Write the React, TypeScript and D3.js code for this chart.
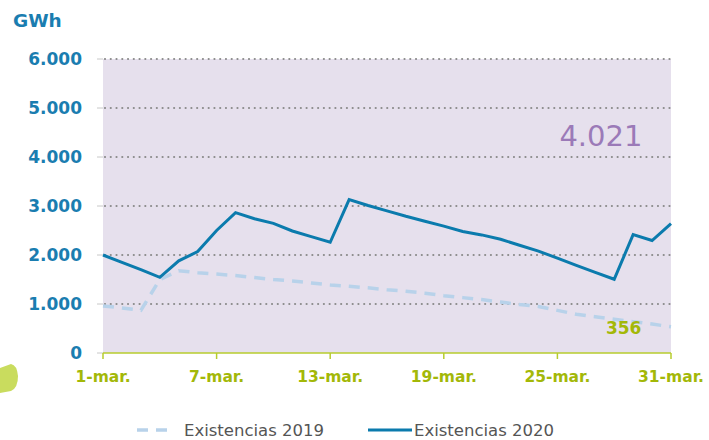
import React, { useEffect, useRef } from 'react';
import * as d3 from 'd3';

// días de marzo
const days = d3.range(1, 32);

// GWh, lectura aproximada del gráfico
const existencias2019 = [
  960, 920, 870, 1500, 1680, 1640, 1610, 1580, 1540, 1500,
  1470, 1430, 1390, 1360, 1330, 1290, 1260, 1220, 1170, 1130,
  1090, 1040, 990, 950, 870, 790, 740, 690, 640, 590, 535,
];
const existencias2020 = [
  2000, 1850, 1700, 1545, 1880, 2070, 2500, 2865, 2740, 2645,
  2490, 2375, 2260, 3130, 3010, 2900, 2790, 2690, 2590, 2480,
  2410, 2320, 2200, 2080, 1935, 1790, 1645, 1505, 2415, 2295, 2640,
];

const yTicks = [0, 1000, 2000, 3000, 4000, 5000, 6000];
const xTickDays = [1, 7, 13, 19, 25, 31];
const xTickLabels = ['1-mar.', '7-mar.', '13-mar.', '19-mar.', '25-mar.', '31-mar.'];

const totalLabel = '4.021';
const lastLabel = '356';
const unitLabel = 'GWh';
const legendLabels = ['Existencias 2019', 'Existencias 2020'];

const fmt = (v: number) => (v === 0 ? '0' : d3.format(',')(v).replace(/,/g, '.'));

const App = () => {
  const ref = useRef<SVGSVGElement>(null);

  useEffect(() => {
    const width = 709;
    const height = 440;
    const margin = { top: 59, right: 38, bottom: 87, left: 103 };
    const w = width - margin.left - margin.right;
    const h = height - margin.top - margin.bottom;

    const svg = d3.select(ref.current);
    svg.selectAll('*').remove();

    const font = 'DejaVu Sans, Verdana, sans-serif';

    // mancha verde a la izquierda
    svg.append('path')
      .attr('d', 'M0,368 L11,364 Q17,365 18,376 Q18,388 11,391 L0,393 Z')
      .attr('fill', '#c9dc5e');

    svg.append('text')
      .attr('x', 13)
      .attr('y', 27)
      .attr('font-family', font)
      .attr('font-weight', 'bold')
      .attr('font-size', 18.5)
      .attr('fill', '#1a7db0')
      .text(unitLabel);

    const g = svg.append('g').attr('transform', `translate(${margin.left},${margin.top})`);

    const x = d3.scaleLinear().domain([1, 31]).range([0, w]);
    const y = d3.scaleLinear().domain([0, 6000]).range([h, 0]);

    g.append('rect')
      .attr('width', w)
      .attr('height', h)
      .attr('fill', '#e6e0ed');

    // rejilla punteada
    yTicks.forEach(t => {
      g.append('line')
        .attr('x1', -6).attr('x2', 0)
        .attr('y1', y(t)).attr('y2', y(t))
        .attr('stroke', '#c8c8c8');
      if (t > 0) {
        g.append('line')
          .attr('x1', 2).attr('x2', w)
          .attr('y1', y(t)).attr('y2', y(t))
          .attr('stroke', '#8a8a8a')
          .attr('stroke-width', 2.2)
          .attr('stroke-linecap', 'round')
          .attr('stroke-dasharray', '0.01,5.75');
      }
      g.append('text')
        .attr('x', -21)
        .attr('y', y(t))
        .attr('dy', '0.36em')
        .attr('text-anchor', 'end')
        .attr('font-family', font)
        .attr('font-weight', 'bold')
        .attr('font-size', 17)
        .attr('fill', '#1a7db0')
        .text(fmt(t));
    });

    // eje x
    g.append('line')
      .attr('x1', 0).attr('x2', w)
      .attr('y1', h).attr('y2', h)
      .attr('stroke', '#b7cc2e')
      .attr('stroke-width', 1.5);
    xTickDays.forEach((d, i) => {
      g.append('line')
        .attr('x1', x(d)).attr('x2', x(d))
        .attr('y1', h).attr('y2', h + 6)
        .attr('stroke', '#b7cc2e')
        .attr('stroke-width', 1.5);
      g.append('text')
        .attr('x', x(d))
        .attr('y', h + 29)
        .attr('text-anchor', 'middle')
        .attr('font-family', font)
        .attr('font-weight', 'bold')
        .attr('font-size', 15.5)
        .attr('fill', '#a3b808')
        .text(xTickLabels[i]);
    });

    const line = d3.line<number>()
      .x((_, i) => x(days[i]))
      .y(d => y(d));

    g.append('path')
      .datum(existencias2019)
      .attr('d', line)
      .attr('fill', 'none')
      .attr('stroke', '#b8d2ea')
      .attr('stroke-width', 3.5)
      .attr('stroke-dasharray', '11,8');

    g.append('path')
      .datum(existencias2020)
      .attr('d', line)
      .attr('fill', 'none')
      .attr('stroke', '#0b7bad')
      .attr('stroke-width', 3)
      .attr('stroke-linejoin', 'miter');

    g.append('text')
      .attr('x', x(27.3))
      .attr('y', y(4224))
      .attr('text-anchor', 'middle')
      .attr('font-family', font)
      .attr('font-size', 29)
      .attr('fill', '#9b7ab8')
      .text(totalLabel);

    g.append('text')
      .attr('x', x(28.5))
      .attr('y', y(390))
      .attr('text-anchor', 'middle')
      .attr('font-family', font)
      .attr('font-weight', 'bold')
      .attr('font-size', 17)
      .attr('fill', '#a3b808')
      .text(lastLabel);

    // leyenda
    const ly = 430;
    svg.append('line')
      .attr('x1', 137).attr('x2', 171)
      .attr('y1', ly).attr('y2', ly)
      .attr('stroke', '#b8d2ea')
      .attr('stroke-width', 3.5)
      .attr('stroke-dasharray', '11,8');
    svg.append('text')
      .attr('x', 184).attr('y', ly)
      .attr('dy', '0.36em')
      .attr('font-family', font)
      .attr('font-size', 16.5)
      .attr('fill', '#555')
      .text(legendLabels[0]);
    svg.append('line')
      .attr('x1', 368).attr('x2', 412)
      .attr('y1', ly).attr('y2', ly)
      .attr('stroke', '#0b7bad')
      .attr('stroke-width', 3);
    svg.append('text')
      .attr('x', 414).attr('y', ly)
      .attr('dy', '0.36em')
      .attr('font-family', font)
      .attr('font-size', 16.5)
      .attr('fill', '#555')
      .text(legendLabels[1]);
  }, []);

  return (
    <svg
      ref={ref}
      width={709}
      height={440}
      style={{ position: 'absolute', left: 0, top: 0, display: 'block' }}
    />
  );
};

export default App;
